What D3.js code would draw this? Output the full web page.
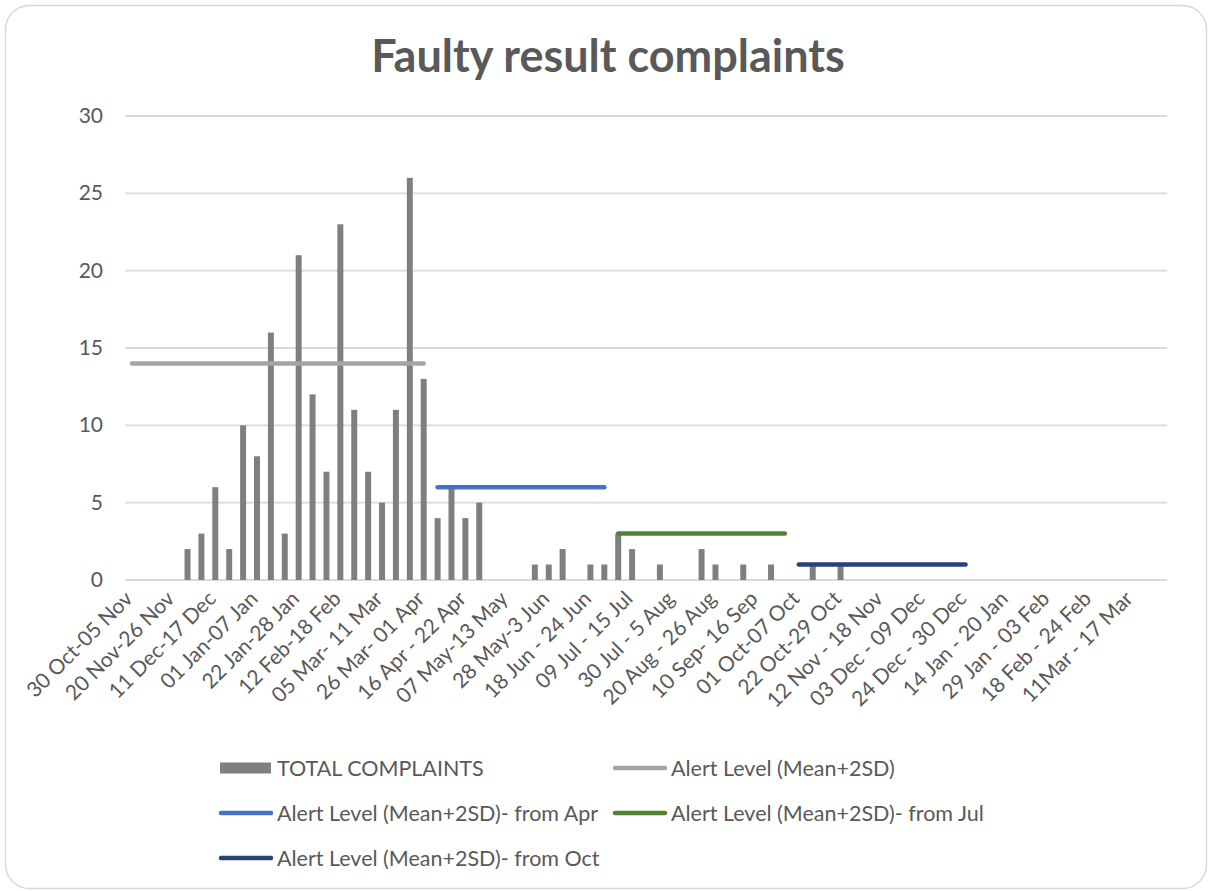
<!DOCTYPE html>
<html lang="en">
<head>
<meta charset="UTF-8">
<title>Faulty result complaints</title>
<script src="https://d3js.org/d3.v7.min.js"></script>
<style>
  body {
    margin: 0;
    background: #ffffff;
    font-family: Lato, "Open Sans", sans-serif;
  }
  .tick-y, .tick-x, .legend-text {
    fill: #595959;
  }
</style>
</head>
<body>
<svg id="chart"></svg>

<script>
// weekly complaint counts (75 weeks, 30 Oct .. 17 Mar)
var complaints = [
  0, 0, 0, 0, 2, 3, 6, 2, 10, 8,
  16, 3, 21, 12, 7, 23, 11, 7, 5, 11,
  26, 13, 4, 6, 4, 5, 0, 0, 0, 1,
  1, 2, 0, 1, 1, 3, 2, 0, 1, 0,
  0, 2, 1, 0, 1, 0, 1, 0, 0, 1,
  0, 1, 0, 0, 0, 0, 0, 0, 0, 0,
  0, 0, 0, 0, 0, 0, 0, 0, 0, 0,
  0, 0, 0, 0, 0
];

// one label every third week
var tickLabels = [
  "30 Oct-05 Nov", "20 Nov-26 Nov", "11 Dec-17 Dec", "01 Jan-07 Jan",
  "22 Jan-28 Jan", "12 Feb-18 Feb", "05 Mar- 11 Mar", "26 Mar- 01 Apr",
  "16 Apr - 22 Apr", "07 May-13 May", "28 May-3 Jun", "18 Jun - 24 Jun",
  "09 Jul - 15 Jul", "30 Jul - 5 Aug", "20 Aug - 26 Aug", "10 Sep- 16 Sep",
  "01 Oct-07 Oct", "22 Oct-29 Oct", "12 Nov - 18 Nov", "03 Dec - 09 Dec",
  "24 Dec - 30 Dec", "14 Jan - 20 Jan", "29 Jan - 03 Feb", "18 Feb - 24 Feb",
  "11Mar - 17 Mar"
];

// alert levels (mean + 2SD) and the week span each one covers
var alertNames = [
  "Alert Level (Mean+2SD)",
  "Alert Level (Mean+2SD)- from Apr",
  "Alert Level (Mean+2SD)- from Jul",
  "Alert Level (Mean+2SD)- from Oct"
];
var alertValues = [14, 6, 3, 1];
var alertFrom = [0, 22, 35, 48];
var alertTo = [21, 34, 47, 60];
var alertColors = ["#a5a5a5", "#4472c4", "#548235", "#264478"];

var yTicks = [0, 5, 10, 15, 20, 25, 30];

var width = 1208, height = 891;
var plotLeft = 125, plotRight = 1167, plotTop = 116, plotBottom = 580;

var svg = d3.select("#chart")
  .attr("width", width)
  .attr("height", height);

// outer frame
svg.append("rect")
  .attr("x", 5.5).attr("y", 5.5)
  .attr("width", 1201).attr("height", 883)
  .attr("rx", 24)
  .attr("fill", "#ffffff")
  .attr("stroke", "#d9d9d9")
  .attr("stroke-width", 1.5);

svg.append("text")
  .attr("x", 608).attr("y", 72)
  .attr("text-anchor", "middle")
  .attr("font-size", 45)
  .attr("font-weight", "bold")
  .attr("fill", "#595959")
  .text("Faulty result complaints");

var x = d3.scaleBand()
  .domain(d3.range(complaints.length))
  .range([plotLeft, plotRight])
  .paddingInner(0.57)
  .paddingOuter(0.285);

var y = d3.scaleLinear()
  .domain([0, 30])
  .range([plotBottom, plotTop]);

var center = i => x(i) + x.bandwidth() / 2;

// grid + y labels
svg.selectAll("line.grid")
  .data(yTicks)
  .enter()
  .append("line")
  .attr("class", "grid")
  .attr("x1", plotLeft).attr("x2", plotRight)
  .attr("y1", d => y(d)).attr("y2", d => y(d))
  .attr("stroke", "#d9d9d9")
  .attr("stroke-width", 1.8);

svg.selectAll("text.tick-y")
  .data(yTicks)
  .enter()
  .append("text")
  .attr("class", "tick-y")
  .attr("x", 103)
  .attr("y", d => y(d) + 7)
  .attr("text-anchor", "end")
  .attr("font-size", 21)
  .text(d => d);

// bars
svg.selectAll("rect.bar")
  .data(complaints)
  .enter()
  .append("rect")
  .attr("class", "bar")
  .attr("x", (d, i) => x(i))
  .attr("y", d => y(d))
  .attr("width", x.bandwidth())
  .attr("height", d => plotBottom - y(d))
  .attr("fill", "#7f7f7f");

// alert lines
svg.selectAll("line.alert")
  .data(alertValues)
  .enter()
  .append("line")
  .attr("class", "alert")
  .attr("x1", (d, i) => center(alertFrom[i]))
  .attr("x2", (d, i) => center(alertTo[i]))
  .attr("y1", d => y(d)).attr("y2", d => y(d))
  .attr("stroke", (d, i) => alertColors[i])
  .attr("stroke-width", 4.5)
  .attr("stroke-linecap", "round");

// x labels, rotated
svg.selectAll("text.tick-x")
  .data(tickLabels)
  .enter()
  .append("text")
  .attr("class", "tick-x")
  .attr("text-anchor", "end")
  .attr("font-size", 21)
  .attr("transform", (d, i) => "translate(" + (center(i * 3) + 2) + "," + (plotBottom + 20) + ") rotate(-45)")
  .text(d => d);

// legend
var legendItems = [
  { name: "TOTAL COMPLAINTS", color: "#7f7f7f", bar: true, lx: 220, ly: 768 },
  { name: alertNames[0], color: alertColors[0], lx: 614, ly: 768 },
  { name: alertNames[1], color: alertColors[1], lx: 220, ly: 813 },
  { name: alertNames[2], color: alertColors[2], lx: 614, ly: 813 },
  { name: alertNames[3], color: alertColors[3], lx: 220, ly: 858 }
];

var legend = svg.selectAll("g.legend")
  .data(legendItems)
  .enter()
  .append("g")
  .attr("class", "legend")
  .attr("transform", d => "translate(" + d.lx + "," + d.ly + ")");

legend.filter(d => d.bar)
  .append("rect")
  .attr("x", 0).attr("y", -5.5)
  .attr("width", 51).attr("height", 11)
  .attr("fill", d => d.color);

legend.filter(d => !d.bar)
  .append("line")
  .attr("x1", 1).attr("x2", 51)
  .attr("stroke", d => d.color)
  .attr("stroke-width", 4.5)
  .attr("stroke-linecap", "round");

legend.append("text")
  .attr("class", "legend-text")
  .attr("x", 57)
  .attr("y", 7.5)
  .attr("font-size", 21.5)
  .text(d => d.name);
</script>
</body>
</html>
